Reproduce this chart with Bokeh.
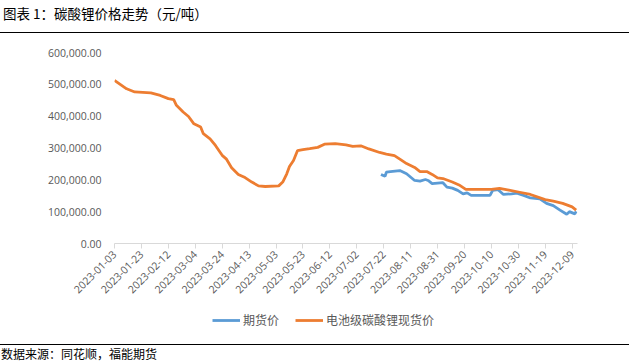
import math
import pandas as pd
from bokeh.plotting import figure
from bokeh.layouts import column
from bokeh.models import (FixedTicker, DatetimeTickFormatter, NumeralTickFormatter,
                          Legend, LegendItem, Range1d, Div)
from bokeh.embed import file_html
from bokeh.resources import INLINE

# ---- data ----
spot_dates = ["2023-01-03", "2023-01-12", "2023-01-18", "2023-01-30", "2023-02-06", "2023-02-12",
              "2023-02-16", "2023-02-18", "2023-02-23", "2023-02-27", "2023-03-03", "2023-03-08",
              "2023-03-10", "2023-03-15", "2023-03-19", "2023-03-24", "2023-03-27", "2023-03-31",
              "2023-04-05", "2023-04-10", "2023-04-15", "2023-04-20", "2023-04-25", "2023-05-05",
              "2023-05-08", "2023-05-11", "2023-05-13", "2023-05-16", "2023-05-19", "2023-05-23",
              "2023-05-28", "2023-06-03", "2023-06-08", "2023-06-16", "2023-06-24", "2023-06-29",
              "2023-07-05", "2023-07-11", "2023-07-19", "2023-07-24", "2023-07-30", "2023-08-03",
              "2023-08-08", "2023-08-14", "2023-08-18", "2023-08-23", "2023-08-27", "2023-08-31",
              "2023-09-04", "2023-09-11", "2023-09-16", "2023-09-21", "2023-09-29", "2023-10-10",
              "2023-10-16", "2023-10-23", "2023-10-31", "2023-11-08", "2023-11-19", "2023-11-25",
              "2023-12-02", "2023-12-09", "2023-12-12"]
spot_values = [512000, 486000, 476000, 473000, 465000, 455000,
               452000, 434000, 413000, 399000, 376000, 366000,
               345000, 329000, 308000, 277000, 266000, 238000,
               217000, 207000, 193000, 181000, 179000, 181000,
               193000, 219000, 242000, 261000, 292000, 295000,
               298000, 302000, 312000, 314000, 310000, 305000,
               307000, 297000, 286000, 281000, 276000, 265000,
               251000, 239000, 226000, 226000, 217000, 206000,
               204000, 193000, 184000, 170000, 170000, 170000,
               173000, 168000, 161000, 154000, 138000, 133000,
               126000, 115000, 105000]

fut_dates = ["2023-07-20", "2023-07-23", "2023-07-24", "2023-07-27", "2023-08-03", "2023-08-08",
             "2023-08-14", "2023-08-18", "2023-08-22", "2023-08-24", "2023-08-27", "2023-09-04",
             "2023-09-07", "2023-09-11", "2023-09-15", "2023-09-19", "2023-09-22", "2023-09-25",
             "2023-10-09", "2023-10-11", "2023-10-15", "2023-10-19", "2023-10-25", "2023-10-29",
             "2023-11-03", "2023-11-08", "2023-11-15", "2023-11-20", "2023-11-25", "2023-11-30",
             "2023-12-05", "2023-12-07", "2023-12-11", "2023-12-12"]
fut_values = [217000, 211000, 224000, 226000, 229000, 219000,
              198000, 196000, 201000, 198000, 188000, 191000,
              177000, 174000, 167000, 156000, 159000, 151000,
              151000, 167000, 169000, 154000, 156000, 158000,
              151000, 143000, 140000, 126000, 119000, 105000,
              92000, 100000, 93000, 101000]

tick_dates = ["2023-01-03", "2023-01-23", "2023-02-12", "2023-03-04", "2023-03-24", "2023-04-13",
              "2023-05-03", "2023-05-23", "2023-06-12", "2023-07-02", "2023-07-22", "2023-08-11",
              "2023-08-31", "2023-09-20", "2023-10-10", "2023-10-30", "2023-11-19", "2023-12-09"]
y_ticks = [0, 100000, 200000, 300000, 400000, 500000, 600000]

series_names = ["期货价", "电池级碳酸锂现货价"]
title_text = "图表 1：碳酸锂价格走势（元/吨）"
source_text = "数据来源：同花顺，福能期货"

BLUE = "#5B9BD5"
ORANGE = "#ED7D31"
GRAY = "#595959"
NUM_FONT = "Open Sans"
CJK_FONT = "Noto Sans CJK SC"
LW = 2.8

W = 629
TOP_H, MAIN_H, LEG_H, FOOT_H = 33, 272, 39, 19

# ---- header: title and rule (HTML) ----
top = Div(width=W, height=TOP_H, margin=0,
          text=('<div style="box-sizing:border-box;width:%dpx;height:%dpx;'
                'border-bottom:1px solid #000;padding-left:3px;font-family:\'%s\';'
                'font-size:13.5px;line-height:26px;color:#000;white-space:nowrap;">%s</div>')
          % (W, TOP_H, CJK_FONT, title_text))

# ---- main chart ----
p = figure(width=W, height=MAIN_H, output_backend="svg", toolbar_location=None,
           x_axis_type="datetime",
           x_range=Range1d(pd.Timestamp("2023-01-03"), pd.Timestamp("2023-12-13")),
           y_range=Range1d(0, 600000),
           min_border_left=114, min_border_right=52, min_border_top=19, min_border_bottom=62)
p.outline_line_color = None
p.xgrid.visible = False
p.ygrid.visible = False
p.background_fill_color = "white"
p.border_fill_color = "white"

p.line(pd.to_datetime(fut_dates), fut_values, line_color=BLUE, line_width=LW)
p.line(pd.to_datetime(spot_dates), spot_values, line_color=ORANGE, line_width=LW)

xa = p.xaxis[0]
xa.ticker = FixedTicker(ticks=[pd.Timestamp(d).timestamp() * 1000 for d in tick_dates])
fmt = "%Y-%m-%d"
xa.formatter = DatetimeTickFormatter(microseconds=fmt, milliseconds=fmt, seconds=fmt, minsec=fmt,
                                     minutes=fmt, hourmin=fmt, hours=fmt, days=fmt, months=fmt, years=fmt)
xa.major_label_orientation = math.pi / 4
xa.axis_line_color = "#D9D9D9"
xa.major_tick_line_color = "#D9D9D9"
xa.major_tick_out = 5
xa.major_tick_in = 0
xa.minor_tick_line_color = None
xa.major_label_text_font = NUM_FONT
xa.major_label_text_font_size = "10.5px"
xa.major_label_text_color = GRAY
xa.major_label_standoff = 4

ya = p.yaxis[0]
ya.ticker = FixedTicker(ticks=y_ticks)
ya.formatter = NumeralTickFormatter(format="0,0.00")
ya.axis_line_color = None
ya.major_tick_line_color = None
ya.minor_tick_line_color = None
ya.major_tick_out = 0
ya.major_label_standoff = 13
ya.major_label_text_font = NUM_FONT
ya.major_label_text_font_size = "10.5px"
ya.major_label_text_color = GRAY

# ---- legend strip ----
leg = figure(width=W, height=LEG_H, output_backend="svg", toolbar_location=None,
             x_axis_type=None, y_axis_type=None,
             x_range=Range1d(0, 1), y_range=Range1d(0, 1), min_border=0)
leg.outline_line_color = None
leg.background_fill_color = "white"
leg.border_fill_color = "white"
nan = float("nan")
lg_fut = leg.line(x=[nan], y=[nan], line_color=BLUE, line_width=LW)
lg_spot = leg.line(x=[nan], y=[nan], line_color=ORANGE, line_width=LW)
legend = Legend(items=[LegendItem(label=series_names[0], renderers=[lg_fut]),
                       LegendItem(label=series_names[1], renderers=[lg_spot])],
                location=(98, 16), orientation="horizontal",
                padding=0, margin=0, spacing=16, glyph_width=28, glyph_height=14,
                label_standoff=3, label_height=14, label_text_font=CJK_FONT,
                label_text_font_size="12px", label_text_color=GRAY,
                border_line_color=None, background_fill_alpha=0)
leg.add_layout(legend, "center")

# ---- footer: rule and source (HTML) ----
foot = Div(width=W, height=FOOT_H, margin=0,
           text=('<div style="box-sizing:border-box;width:%dpx;height:%dpx;'
                 'border-top:1px solid #000;padding-left:1px;font-family:\'%s\';'
                 'font-size:12px;line-height:18px;color:#000;white-space:nowrap;">%s</div>')
           % (W, FOOT_H, CJK_FONT, source_text))

layout = column(top, p, leg, foot, spacing=0)
open("out.html", "w").write(file_html(layout, INLINE))
